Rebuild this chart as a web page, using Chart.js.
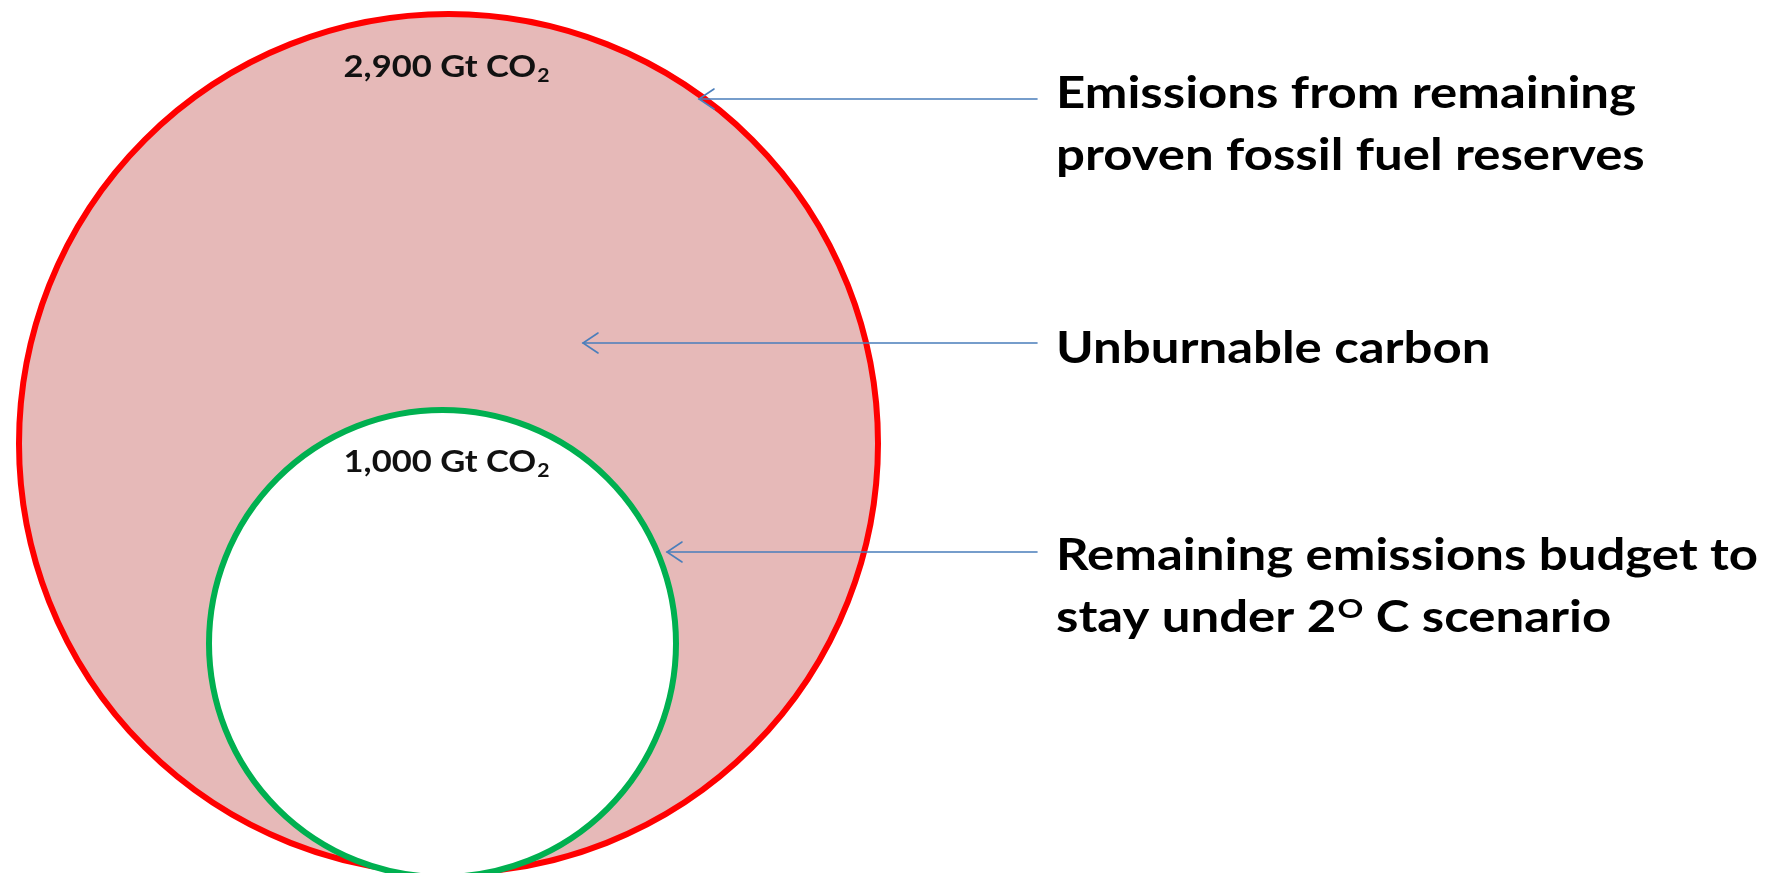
<!DOCTYPE html>
<html>
<head>
<meta charset="utf-8">
<script src="https://cdn.jsdelivr.net/npm/chart.js@4.4.1/dist/chart.umd.min.js"></script>
<style>
  html, body { margin: 0; padding: 0; background: #ffffff; }
  #wrap { width: 1775px; height: 873px; position: relative; }
</style>
</head>
<body>
<div id="wrap"><canvas id="c"></canvas></div>
<script>
// ---------------- data ----------------
const circleNames = ['Remaining proven fossil fuel reserves', 'Remaining 2° C emissions budget'];
const circleValues = [2900, 1000];           // Gt CO2
const circleUnit = 'Gt CO';
const circleUnitSub = '2';
const calloutLines = [
  ['Emissions from remaining', 'proven fossil fuel reserves'],
  ['Unburnable carbon'],
  ['Remaining emissions budget to', 'stay under 2^O C scenario']
];

// ---------------- layout / style (not data) ----------------
const W = 1775, H = 873;
const circleGeom = [
  { cx: 448.5, cy: 443.5, r: 429.5, labelX: 446, labelY: 77 },
  { cx: 442.5, cy: 643.5, r: 233.5, labelX: 446, labelY: 472 }
];
const circleFill = ['#E6B9B8', '#FFFFFF'];
const circleStroke = ['#FF0000', '#00B050'];
const arrowGeom = [
  { y: 99,  tipX: 699, endX: 1037 },
  { y: 343, tipX: 583, endX: 1037 },
  { y: 552, tipX: 667, endX: 1037 }
];
const calloutPos = [
  { x: 1056, baselines: [108, 170] },
  { x: 1056, baselines: [363] },
  { x: 1056, baselines: [570, 632] }
];
const calloutFontPx = 43;
const calloutRefWidth = 580;     // width of first callout line in the picture
const labelFontPx = 31;
const labelRefWidth = 205;       // width of "2,900 Gt CO2"
const FONT = 'Lato, "Open Sans", sans-serif';

function fmt(v) { return v.toLocaleString('en-US'); }

// segments: parse "^X" as superscript X
function segs(line) {
  const out = [];
  const re = /\^(\S)/g;
  let last = 0, m;
  while ((m = re.exec(line))) {
    if (m.index > last) out.push({ t: line.slice(last, m.index), sup: false });
    out.push({ t: m[1], sup: true });
    last = m.index + m[0].length;
  }
  if (last < line.length) out.push({ t: line.slice(last), sup: false });
  return out;
}

const overlay = {
  id: 'overlay',
  afterDatasetsDraw(chart) {
    const ctx = chart.ctx;
    const xs = chart.scales.x, ys = chart.scales.y;

    // circle labels
    ctx.save();
    ctx.fillStyle = '#111111';
    ctx.textBaseline = 'alphabetic';
    const mainF = 'bold ' + labelFontPx + 'px ' + FONT;
    const subF = 'bold ' + Math.round(labelFontPx * 0.62) + 'px ' + FONT;
    ctx.font = mainF;
    const refMain = ctx.measureText(fmt(circleValues[0]) + ' ' + circleUnit).width;
    ctx.font = subF;
    const refSub = ctx.measureText(circleUnitSub).width;
    const lsx = labelRefWidth / (refMain + refSub);
    circleValues.forEach((v, i) => {
      const g = circleGeom[i];
      const px = xs.getPixelForValue(g.labelX), py = ys.getPixelForValue(g.labelY);
      const main = fmt(v) + ' ' + circleUnit;
      ctx.font = mainF; const wm = ctx.measureText(main).width;
      ctx.font = subF; const ws = ctx.measureText(circleUnitSub).width;
      const tot = (wm + ws);
      ctx.save();
      ctx.translate(px, py);
      ctx.scale(lsx, 1);
      ctx.textAlign = 'left';
      ctx.font = mainF;
      ctx.fillText(main, -tot / 2, 0);
      ctx.font = subF;
      ctx.fillText(circleUnitSub, -tot / 2 + wm + 1, labelFontPx * 0.16);
      ctx.restore();
    });
    ctx.restore();

    // arrows
    ctx.save();
    ctx.strokeStyle = '#4A7EBB';
    ctx.lineWidth = 1.6;
    ctx.lineCap = 'round';
    arrowGeom.forEach(a => {
      const y = ys.getPixelForValue(a.y);
      const x0 = xs.getPixelForValue(a.endX), x1 = xs.getPixelForValue(a.tipX);
      ctx.beginPath();
      ctx.moveTo(x0, y); ctx.lineTo(x1, y);
      ctx.stroke();
      ctx.beginPath();
      ctx.moveTo(x1 + 15, y - 10); ctx.lineTo(x1, y); ctx.lineTo(x1 + 15, y + 10);
      ctx.stroke();
    });
    ctx.restore();

    // callout texts
    ctx.save();
    ctx.fillStyle = '#000000';
    ctx.textAlign = 'left';
    ctx.textBaseline = 'alphabetic';
    const cf = 'bold ' + calloutFontPx + 'px ' + FONT;
    const sf = 'bold ' + Math.round(calloutFontPx * 0.62) + 'px ' + FONT;
    ctx.font = cf;
    const csx = calloutRefWidth / ctx.measureText(calloutLines[0][0]).width;
    calloutLines.forEach((lines, i) => {
      const p = calloutPos[i];
      lines.forEach((line, j) => {
        const px = xs.getPixelForValue(p.x), py = ys.getPixelForValue(p.baselines[j]);
        ctx.save();
        ctx.translate(px, py);
        ctx.scale(csx, 1);
        let x = 0;
        segs(line).forEach(s => {
          if (s.sup) {
            ctx.font = sf;
            ctx.fillText(s.t, x + 1, -calloutFontPx * 0.33);
            x += ctx.measureText(s.t).width + 1;
          } else {
            ctx.font = cf;
            ctx.fillText(s.t, x, 0);
            x += ctx.measureText(s.t).width;
          }
        });
        ctx.restore();
      });
    });
    ctx.restore();
  }
};

const chart = new Chart(document.getElementById('c'), {
  type: 'bubble',
  data: {
    labels: circleNames,
    datasets: [{
      label: 'CO2',
      data: circleValues.map((v, i) => ({ x: circleGeom[i].cx, y: circleGeom[i].cy, r: circleGeom[i].r, v: v })),
      backgroundColor: circleFill,
      borderColor: circleStroke,
      borderWidth: 6,
      hoverRadius: 0,
      hoverBorderWidth: 6,
      clip: false
    }]
  },
  options: {
    responsive: true,
    maintainAspectRatio: false,
    devicePixelRatio: 1,
    animation: false,
    events: [],
    layout: { padding: 0, autoPadding: false },
    plugins: { legend: { display: false }, tooltip: { enabled: false } },
    scales: {
      x: { type: 'linear', min: 0, max: W, display: false },
      y: { type: 'linear', min: 0, max: H, reverse: true, display: false }
    }
  },
  plugins: [overlay]
});
</script>
</body>
</html>
